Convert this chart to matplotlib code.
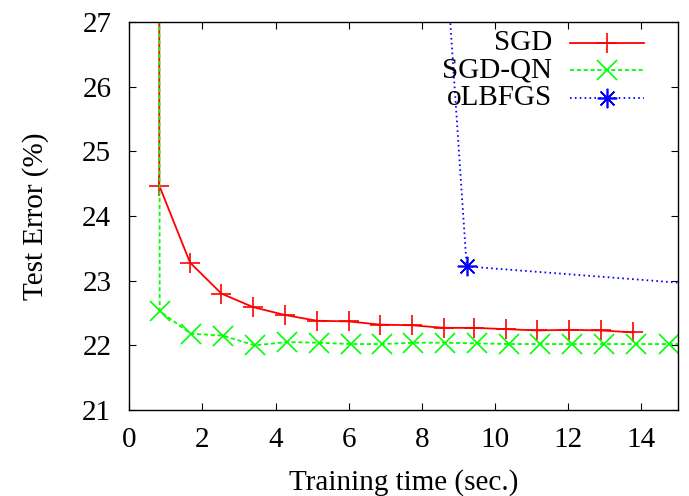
import numpy as np
import matplotlib
matplotlib.use("Agg")
import matplotlib.pyplot as plt

# ------------------------------
# Data
# ------------------------------
sgd_t = [0.82, 0.82, 1.66, 2.52, 3.39, 4.25, 5.13, 6.00, 6.86, 7.73,
         8.61, 9.43, 10.31, 11.16, 12.04, 12.91, 13.79]
sgd_err = [45.0, 24.47, 23.28, 22.80, 22.59, 22.47, 22.38, 22.37, 22.32, 22.31,
           22.27, 22.27, 22.25, 22.23, 22.24, 22.23, 22.20]

qn_t = [0.80, 0.83, 1.68, 2.56, 3.43, 4.31, 5.18, 6.06, 6.91, 7.77,
        8.63, 9.50, 10.38, 11.24, 12.11, 12.99, 13.86, 14.76, 15.63]
qn_err = [45.0, 22.53, 22.18, 22.15, 22.00, 22.05, 22.04, 22.02, 22.02, 22.04,
          22.04, 22.03, 22.02, 22.02, 22.02, 22.02, 22.02, 22.02, 22.02]

lbfgs_t = [8.40, 9.23, 18.0]
lbfgs_err = [30.2, 23.22, 22.84]

x_ticks = [0, 2, 4, 6, 8, 10, 12, 14]
y_ticks = [21, 22, 23, 24, 25, 26, 27]

series = [
    ("SGD", sgd_t, sgd_err, "#ff0000", "-", "+"),
    ("SGD-QN", qn_t, qn_err, "#00ff00", (0, (2.3, 1.5)), "x"),
    ("oLBFGS", lbfgs_t, lbfgs_err, "#0000ff", (0, (0.9, 1.8)), (8, 2, 0)),
]

FS = 21
plt.rcParams["font.family"] = ["Liberation Serif", "DejaVu Serif"]

fig = plt.figure(figsize=(6.89, 4.96), dpi=100)
ax = fig.add_axes([0.1877, 0.1734, 0.7957, 0.7823])

for name, t, e, col, ls, mk in series:
    ax.plot(t, e, color=col, linestyle=ls, linewidth=1.3,
            marker=mk, markersize=14, markeredgewidth=1.2)

# legend drawn by hand: right-aligned labels, sample line to the right
leg_y = [0.946, 0.876, 0.804]
for (name, t, e, col, ls, mk), yy in zip(series, leg_y):
    ax.plot([0.804, 0.939], [yy, yy], transform=ax.transAxes, color=col,
            linestyle=ls, linewidth=1.3, clip_on=False)
    ax.plot([0.8715], [yy], transform=ax.transAxes, color=col, marker=mk,
            markersize=14, markeredgewidth=1.2, linestyle="none", clip_on=False)
    ax.text(0.771, yy, name, transform=ax.transAxes, ha="right", va="center",
            fontsize=FS)

ax.set_xlim(0, 15)
ax.set_ylim(21, 27)
ax.set_xticks(x_ticks)
ax.set_yticks(y_ticks)
ax.tick_params(direction="in", top=True, right=True, length=5, width=0.8,
               labelsize=FS)
ax.tick_params(axis="y", pad=13)
ax.tick_params(axis="x", pad=12)
for sp in ax.spines.values():
    sp.set_linewidth(1.0)

ax.set_xlabel("Training time (sec.)", fontsize=FS, labelpad=11.5)
ax.set_ylabel("Test Error (%)", fontsize=FS, labelpad=24)

fig.savefig("out.png", dpi=100)
